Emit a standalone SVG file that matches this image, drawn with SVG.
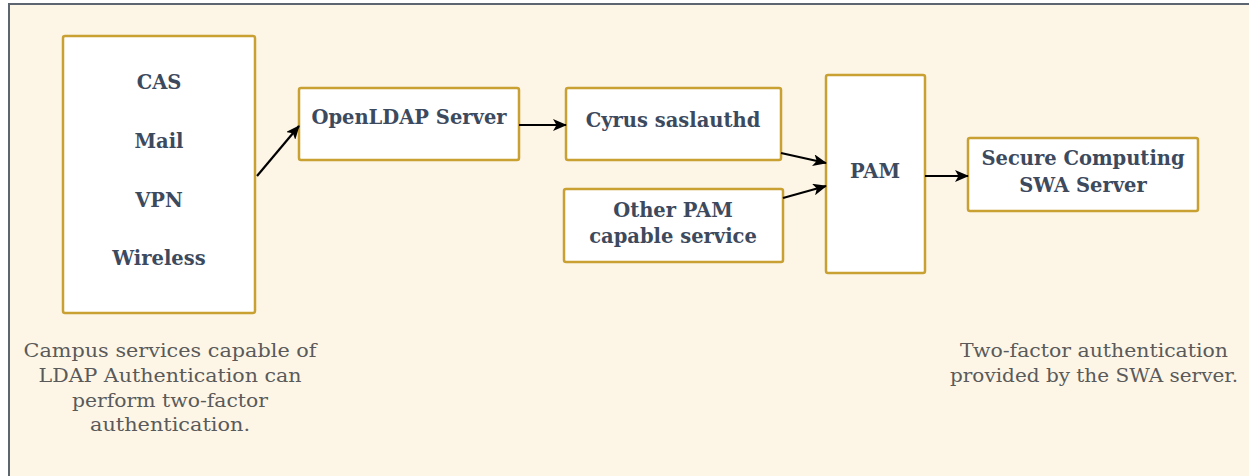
<svg xmlns="http://www.w3.org/2000/svg" width="1249" height="476" viewBox="0 0 1249 476">
<style>
.node{fill:#ffffff;stroke:#c9a133;stroke-width:2.5}
.lbl{font-family:"DejaVu Serif",serif;font-size:19.5px;font-weight:bold;fill:#3d4a5e;text-anchor:middle}
.note{font-family:"DejaVu Serif",serif;font-size:18.5px;fill:#5a5a5a;text-anchor:middle}
.edge{stroke:#000;stroke-width:2.2;fill:none;marker-end:url(#ah)}
</style>
<defs>
<marker id="ah" viewBox="0 0 14 12" refX="13" refY="6" markerWidth="14" markerHeight="12" markerUnits="userSpaceOnUse" orient="auto">
<path d="M0,0 L14,6 L0,12 L3.5,6 Z" fill="#000"/>
</marker>
</defs>
<rect x="0" y="0" width="1249" height="476" fill="#ffffff"/>
<rect id="panel" x="9" y="4" width="1250" height="480" fill="#fdf6e7"/>
<path d="M9,476 L9,4 L1249,4" fill="none" stroke="#5d6670" stroke-width="2"/>
<g id="services">
<rect class="node" x="63" y="36" width="192" height="277" rx="2"/>
<text class="lbl" x="159" y="89">CAS</text>
<text class="lbl" x="159" y="148">Mail</text>
<text class="lbl" x="159" y="207">VPN</text>
<text class="lbl" x="159" y="265">Wireless</text>
</g>
<g id="openldap">
<rect class="node" x="299" y="88" width="220" height="72" rx="2"/>
<text class="lbl" x="409" y="124">OpenLDAP Server</text>
</g>
<g id="cyrus">
<rect class="node" x="566" y="88" width="215" height="72" rx="2"/>
<text class="lbl" x="673" y="127">Cyrus saslauthd</text>
</g>
<g id="otherpam">
<rect class="node" x="564" y="189" width="219" height="73" rx="2"/>
<text class="lbl" x="673" y="217">Other PAM</text>
<text class="lbl" x="673" y="243">capable service</text>
</g>
<g id="pam">
<rect class="node" x="826" y="75" width="99" height="198" rx="2"/>
<text class="lbl" x="875" y="178">PAM</text>
</g>
<g id="swa">
<rect class="node" x="968" y="138" width="230" height="73" rx="2"/>
<text class="lbl" x="1083" y="165">Secure Computing</text>
<text class="lbl" x="1083" y="192">SWA Server</text>
</g>
<g id="connectors">
<path class="edge" d="M257,176 L299,126"/>
<path class="edge" d="M519,125 L566,125"/>
<path class="edge" d="M781,153 L826,163"/>
<path class="edge" d="M783,198 L826,186"/>
<path class="edge" d="M925,176 L968,176"/>
</g>
<g id="note-left">
<text class="note" x="170" y="357" textLength="293" lengthAdjust="spacingAndGlyphs">Campus services capable of</text>
<text class="note" x="170" y="382" textLength="263" lengthAdjust="spacingAndGlyphs">LDAP Authentication can</text>
<text class="note" x="170" y="407" textLength="196" lengthAdjust="spacingAndGlyphs">perform two-factor</text>
<text class="note" x="170" y="431" textLength="160" lengthAdjust="spacingAndGlyphs">authentication.</text>
</g>
<g id="note-right">
<text class="note" x="1094" y="357" textLength="268" lengthAdjust="spacingAndGlyphs">Two-factor authentication</text>
<text class="note" x="1094" y="382" textLength="288" lengthAdjust="spacingAndGlyphs">provided by the SWA server.</text>
</g>
</svg>
